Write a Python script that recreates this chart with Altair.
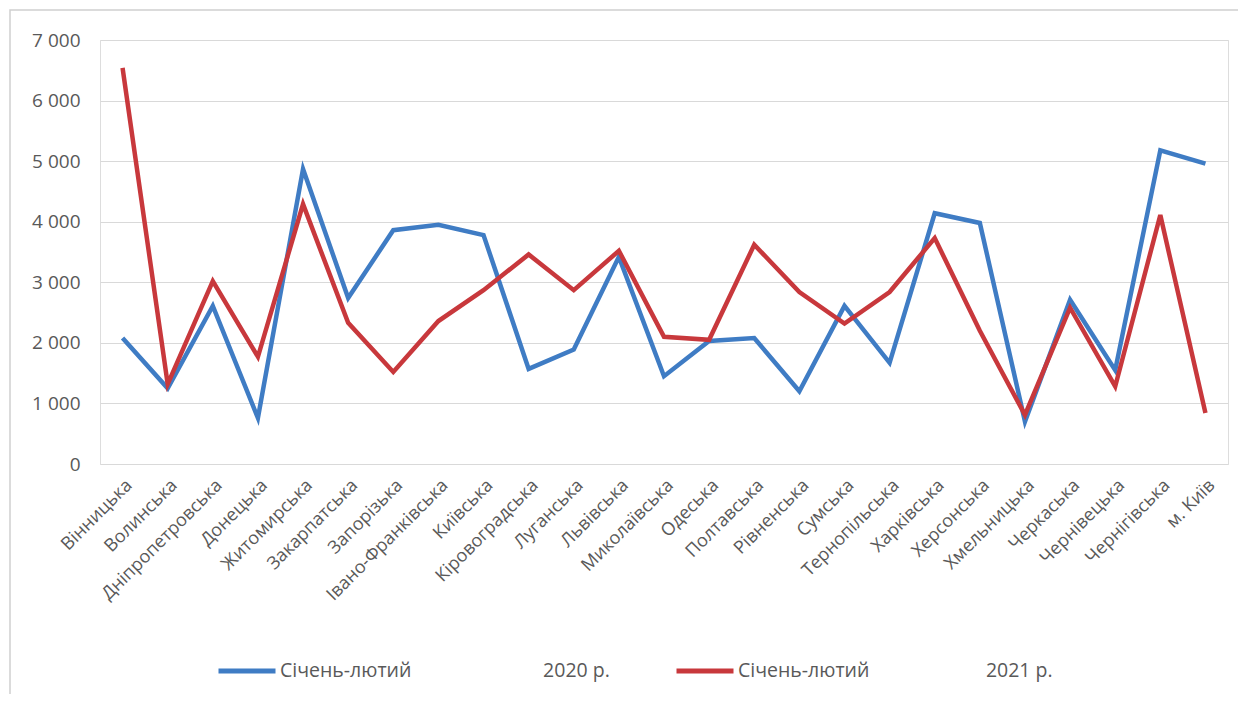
import altair as alt
import pandas as pd

regions = ["Вінницька", "Волинська", "Дніпропетровська", "Донецька", "Житомирська",
           "Закарпатська", "Запорізька", "Івано-Франківська", "Київська", "Кіровоградська",
           "Луганська", "Львівська", "Миколаївська", "Одеська", "Полтавська",
           "Рівненська", "Сумська", "Тернопільська", "Харківська", "Херсонська",
           "Хмельницька", "Черкаська", "Чернівецька", "Чернігівська", "м. Київ"]

values_2020 = [2080, 1250, 2610, 760, 4870, 2740, 3860, 3950, 3780, 1570,
               1890, 3420, 1450, 2030, 2080, 1200, 2610, 1670, 4140, 3980,
               700, 2710, 1550, 5180, 4960]

values_2021 = [6540, 1320, 3020, 1770, 4290, 2330, 1520, 2360, 2870, 3460,
               2870, 3520, 2100, 2050, 3620, 2840, 2320, 2840, 3730, 2200,
               810, 2580, 1280, 4110, 840]

NB = "\u00a0"
series_names = ["Січень-лютий" + NB * 26 + "2020 р.", "Січень-лютий" + NB * 23 + "2021 р."]
colors = ["#3F7CC4", "#C8383C"]

rows = []
for i, r in enumerate(regions):
    rows.append({"region": r, "value": values_2020[i], "series": series_names[0], "order": i})
    rows.append({"region": r, "value": values_2021[i], "series": series_names[1], "order": i})
df = pd.DataFrame(rows)

FONT = "Open Sans"

lines = alt.Chart(df).mark_line(strokeWidth=4.5, strokeJoin="miter", strokeCap="butt").encode(
    x=alt.X("region:N", sort=regions,
            axis=alt.Axis(title=None, labelAngle=-45, labelFontSize=18, labelColor="#595959",
                          labelFont=FONT, domain=False, ticks=False, labelPadding=12,
                          labelLimit=300, labelAlign="right", labelBaseline="top")),
    y=alt.Y("value:Q", scale=alt.Scale(domain=[0, 7000], nice=False),
            axis=alt.Axis(title=None, values=[0, 1000, 2000, 3000, 4000, 5000, 6000, 7000],
                          labelExpr="datum.value == 0 ? '0' : floor(datum.value/1000) + ' 000'",
                          labelFontSize=19, labelColor="#595959", labelFont=FONT,
                          domain=False, ticks=False, labelPadding=20,
                          gridColor="#D9D9D9", gridWidth=1.2)),
    color=alt.Color("series:N", scale=alt.Scale(domain=series_names, range=colors),
                    legend=alt.Legend(title=None, orient="none", direction="horizontal",
                                      legendX=116, legendY=600,
                                      symbolType="stroke", symbolSize=3249, symbolStrokeWidth=5,
                                      labelFontSize=19.5, labelFont=FONT, labelColor="#595959",
                                      labelLimit=700, columnPadding=56, labelOffset=2)),
    order="order:Q",
)

border = alt.Chart(pd.DataFrame({"a": [0]})).mark_rect(
    fill=None, stroke="#D0D0D0", strokeWidth=1.5
).encode(x=alt.value(-90), x2=alt.value(1140), y=alt.value(-30), y2=alt.value(720))

chart = alt.layer(border, lines).properties(
    width=1128, height=424,
    autosize=alt.AutoSizeParams(type="none"),
    padding={"left": 92, "top": 32, "right": 10, "bottom": 230},
).configure_view(stroke=None).configure(background="white")

chart.save("out.html", embed_options={"renderer": "svg", "actions": False})
